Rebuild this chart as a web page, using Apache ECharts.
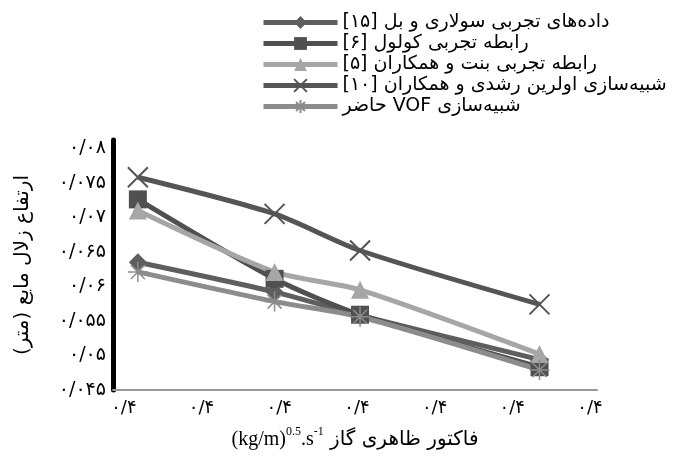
<!DOCTYPE html>
<html>
<head>
<meta charset="utf-8">
<script src="https://cdn.jsdelivr.net/npm/echarts@6/dist/echarts.min.js"></script>
<style>
html,body{margin:0;padding:0;background:#fff;}
#chart{width:683px;height:461px;}
</style>
</head>
<body>
<div id="chart"></div>
<script>
// ---- data ----
var RLM = '\u200F';
var seriesNames = [
  'داده‌های تجربی سولاری و بل [۱۵]' + RLM,
  'رابطه تجربی کولول [۶]' + RLM,
  'رابطه تجربی بنت و همکاران [۵]' + RLM,
  'شبیه‌سازی اولرین رشدی و همکاران [۱۰]' + RLM,
  'حاضر VOF شبیه‌سازی'
];
var xValues = [0.3718, 0.3894, 0.4004, 0.4235];
var solaryBell = [0.0635, 0.0592, 0.0558, 0.0494];
var kolol      = [0.0726, 0.0611, 0.0559, 0.0483];
var bennett    = [0.0710, 0.0621, 0.0595, 0.0502];
var eulerian   = [0.0758, 0.0705, 0.0652, 0.0574];
var vofPresent = [0.0621, 0.0578, 0.0556, 0.0479];
var yTickLabels = ['۰/۰۴۵','۰/۰۵','۰/۰۵۵','۰/۰۶','۰/۰۶۵','۰/۰۷','۰/۰۷۵','۰/۰۸'];
var xTickValues = [0.37, 0.38, 0.39, 0.40, 0.41, 0.42, 0.43];
var xTickLabels = ['۰/۴','۰/۴','۰/۴','۰/۴','۰/۴','۰/۴','۰/۴'];
var yAxisTitle = 'ارتفاع زلال مایع (متر)' + RLM;
var xAxisTitleFa = 'فاکتور ظاهری گاز';

function pairs(ys){ return ys.map(function(y,i){ return [xValues[i], y]; }); }

var FA = 'DejaVu Sans';
var chart = echarts.init(document.getElementById('chart'), null, {renderer:'canvas'});

function mk(name, data, color, symbol, size, extra){
  var s = {
    name: name, type: 'line', data: pairs(data), smooth: 0.25,
    symbol: symbol, symbolSize: size, showSymbol: true,
    lineStyle: {color: color, width: 5},
    itemStyle: {color: color},
    z: 2
  };
  if (extra) { for (var k in extra) s[k] = extra[k]; }
  return s;
}

var option = {
  backgroundColor: '#fff',
  animation: false,
  grid: {left: 113, right: 86, top: 140, bottom: 71, containLabel: false},
  legend: {
    orient: 'vertical', left: 256, top: 8,
    itemWidth: 74, itemHeight: 16, itemGap: 2,
    lineStyle: {width: 5},
    textStyle: {fontFamily: FA, fontSize: 19, color: '#000', lineHeight: 16},
    data: seriesNames
  },
  xAxis: {
    type: 'value', min: 0.3686, max: 0.4309,
    axisLine: {show: true, lineStyle: {color: '#999', width: 2}},
    axisTick: {show: false},
    splitLine: {show: false},
    axisLabel: {
      customValues: xTickValues,
      fontFamily: FA, fontSize: 18, color: '#000', margin: 9,
      formatter: function(v){
        var i = xTickValues.findIndex(function(t){ return Math.abs(t - v) < 1e-6; });
        return i >= 0 ? xTickLabels[i] : '';
      }
    },
    name: '{lat|(kg/m)}{sup|0.5}{lat|.s}{sup|-1}{fa| ' + xAxisTitleFa + '}',
    nameLocation: 'middle', nameGap: 36,
    nameTextStyle: {
      rich: {
        lat: {fontFamily: 'Liberation Serif', fontSize: 20, color: '#000', verticalAlign: 'bottom', lineHeight: 24},
        sup: {fontFamily: 'Liberation Serif', fontSize: 12, color: '#000', verticalAlign: 'top', lineHeight: 24, padding: [0,0,11,0]},
        fa: {fontFamily: FA, fontSize: 20, color: '#000', verticalAlign: 'bottom', lineHeight: 24}
      }
    }
  },
  yAxis: {
    type: 'value', min: 0.045, max: 0.0812, interval: 0.005,
    axisLine: {show: true, lineStyle: {color: '#000', width: 5}},
    axisTick: {show: false},
    splitLine: {show: false},
    axisLabel: {
      fontFamily: FA, fontSize: 19, color: '#000', margin: 7,
      formatter: function(v){
        var i = Math.round((v - 0.045) / 0.005);
        return (i >= 0 && i < yTickLabels.length && Math.abs(v - (0.045 + i*0.005)) < 1e-6) ? yTickLabels[i] : '';
      }
    },
    name: yAxisTitle, nameLocation: 'middle', nameGap: 80, nameRotate: 90,
    nameTextStyle: {fontFamily: FA, fontSize: 20, color: '#000'}
  },
  series: [
    mk(seriesNames[0], solaryBell, '#5e5e5e', 'diamond', 18),
    mk(seriesNames[1], kolol, '#505050', 'rect', 18),
    mk(seriesNames[2], bennett, '#a6a6a6', 'triangle', 18),
    mk(seriesNames[3], eulerian, '#555555', 'path://M0,0L10,10M10,0L0,10', 20,
       {itemStyle: {color: '#555555', borderColor: '#555555', borderWidth: 2}}),
    mk(seriesNames[4], vofPresent, '#8c8c8c', 'path://M5,0L5,10M0,5L10,5M1.5,1.5L8.5,8.5M8.5,1.5L1.5,8.5', 20,
       {itemStyle: {color: '#8c8c8c', borderColor: '#8c8c8c', borderWidth: 1.5}})
  ]
};
chart.setOption(option);
</script>
</body>
</html>
